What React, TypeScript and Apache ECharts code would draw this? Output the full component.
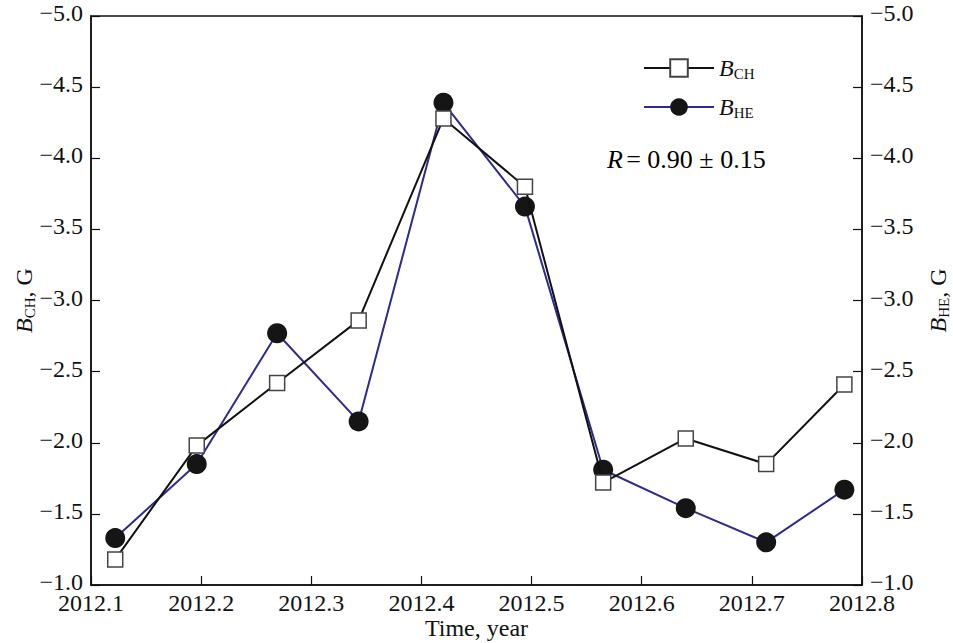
import React, { useEffect, useRef } from "react";
import * as echarts from "echarts";

const years = [2012.122, 2012.196, 2012.269, 2012.343, 2012.42, 2012.494, 2012.565, 2012.64, 2012.713, 2012.784];
const valuesCH = [-1.18, -1.98, -2.42, -2.86, -4.28, -3.8, -1.72, -2.03, -1.85, -2.41];
const valuesHE = [-1.33, -1.85, -2.77, -2.15, -4.39, -3.66, -1.81, -1.54, -1.3, -1.67];
const seriesNames = ["BCH", "BHE"];
const subscripts = ["CH", "HE"];
const xRange = [2012.1, 2012.8];
const yRange = [-5.0, -1.0];
const correlationText = "= 0.90 ± 0.15";

const FONT = "Liberation Serif";

const richStyles = {
  b: { fontFamily: FONT, fontStyle: "italic", fontSize: 24, lineHeight: 26, color: "#111" },
  s: { fontFamily: FONT, fontSize: 15, lineHeight: 15, verticalAlign: "bottom", color: "#111" },
  t: { fontFamily: FONT, fontSize: 24, lineHeight: 26, color: "#111" },
};

const richR = {
  b: { fontFamily: FONT, fontStyle: "italic", fontSize: 26, lineHeight: 30, color: "#111" },
  t: { fontFamily: FONT, fontSize: 26, lineHeight: 30, color: "#111" },
};

const fmtY = (v: number) => v.toFixed(1).replace("-", "\u2212");

export default function App() {
  const ref = useRef<HTMLDivElement>(null);
  useEffect(() => {
    if (!ref.current) return;
    const chart = echarts.init(ref.current, null, { renderer: "svg" });
    const yAxisCommon = {
      type: "value",
      min: yRange[0],
      max: yRange[1],
      interval: 0.5,
      inverse: true,
      nameLocation: "middle",
      nameRotate: 90,
      nameMoveOverlap: false,
      splitLine: { show: false },
      axisLine: { show: true, lineStyle: { color: "#111", width: 1.5 } },
      axisTick: { show: true, inside: true, length: 9, lineStyle: { color: "#111", width: 1.2 } },
      axisLabel: {
        formatter: fmtY,
        fontFamily: FONT,
        fontSize: 24,
        lineHeight: 6,
        verticalAlign: "bottom",
        color: "#111",
        margin: 8,
      },
    };
    chart.setOption({
      animation: false,
      backgroundColor: "#fff",
      textStyle: { fontFamily: FONT, color: "#111" },
      grid: {
        left: 91,
        right: 91,
        top: 16,
        bottom: 58,
        show: true,
        borderColor: "#111",
        borderWidth: 1.5,
        containLabel: false,
        outerBoundsMode: "none",
      },
      legend: {
        orient: "vertical",
        left: 643,
        top: 56,
        padding: 0,
        itemWidth: 70,
        itemHeight: 22,
        itemGap: 14,
        data: seriesNames,
        formatter: (name: string) => `{b|B}{s|${subscripts[seriesNames.indexOf(name)]}}`,
        textStyle: { fontFamily: FONT, fontSize: 24, rich: richStyles },
      },
      xAxis: {
        type: "value",
        min: xRange[0],
        max: xRange[1],
        interval: 0.1,
        name: "Time, year",
        nameLocation: "middle",
        nameGap: 32,
        nameMoveOverlap: false,
        nameTextStyle: { fontFamily: FONT, fontSize: 24, lineHeight: 22, color: "#111" },
        splitLine: { show: false },
        axisLine: { show: true, lineStyle: { color: "#111", width: 1.5 } },
        axisTick: { show: true, inside: true, length: 9, lineStyle: { color: "#111", width: 1.2 } },
        axisLabel: {
          formatter: (v: number) => v.toFixed(1),
          fontFamily: FONT,
          fontSize: 24,
          lineHeight: 20,
          color: "#111",
          margin: 8,
        },
      },
      yAxis: [
        {
          ...yAxisCommon,
          position: "left",
          name: "{b|B}{s|CH}{t|, G}",
          nameGap: 67,
          nameTextStyle: { rich: richStyles, verticalAlign: "middle", lineHeight: 26 },
        },
        {
          ...yAxisCommon,
          position: "right",
          name: "{b|B}{s|HE}{t|, G}",
          nameGap: 76,
          nameTextStyle: { rich: richStyles, verticalAlign: "middle", lineHeight: 26 },
        },
      ],
      graphic: [
        {
          type: "text",
          left: 607,
          top: 146,
          style: {
            text: `{b|R} {t|${correlationText}}`,
            rich: richR,
          },
        },
      ],
      series: [
        {
          name: seriesNames[1],
          type: "line",
          yAxisIndex: 1,
          data: years.map((x, i) => [x, valuesHE[i]]),
          symbol: "circle",
          symbolSize: 20,
          lineStyle: { color: "#2e2a8f", width: 2 },
          itemStyle: { color: "#151515", borderColor: "#151515", borderWidth: 0 },
          z: 2,
        },
        {
          name: seriesNames[0],
          type: "line",
          yAxisIndex: 0,
          data: years.map((x, i) => [x, valuesCH[i]]),
          symbol: "rect",
          symbolSize: 15,
          lineStyle: { color: "#111", width: 2 },
          itemStyle: { color: "#fff", borderColor: "#444", borderWidth: 1.5 },
          z: 3,
        },
      ],
    });
    return () => chart.dispose();
  }, []);
  return <div ref={ref} style={{ width: 953, height: 643, position: "absolute", left: 0, top: 0 }} />;
}
